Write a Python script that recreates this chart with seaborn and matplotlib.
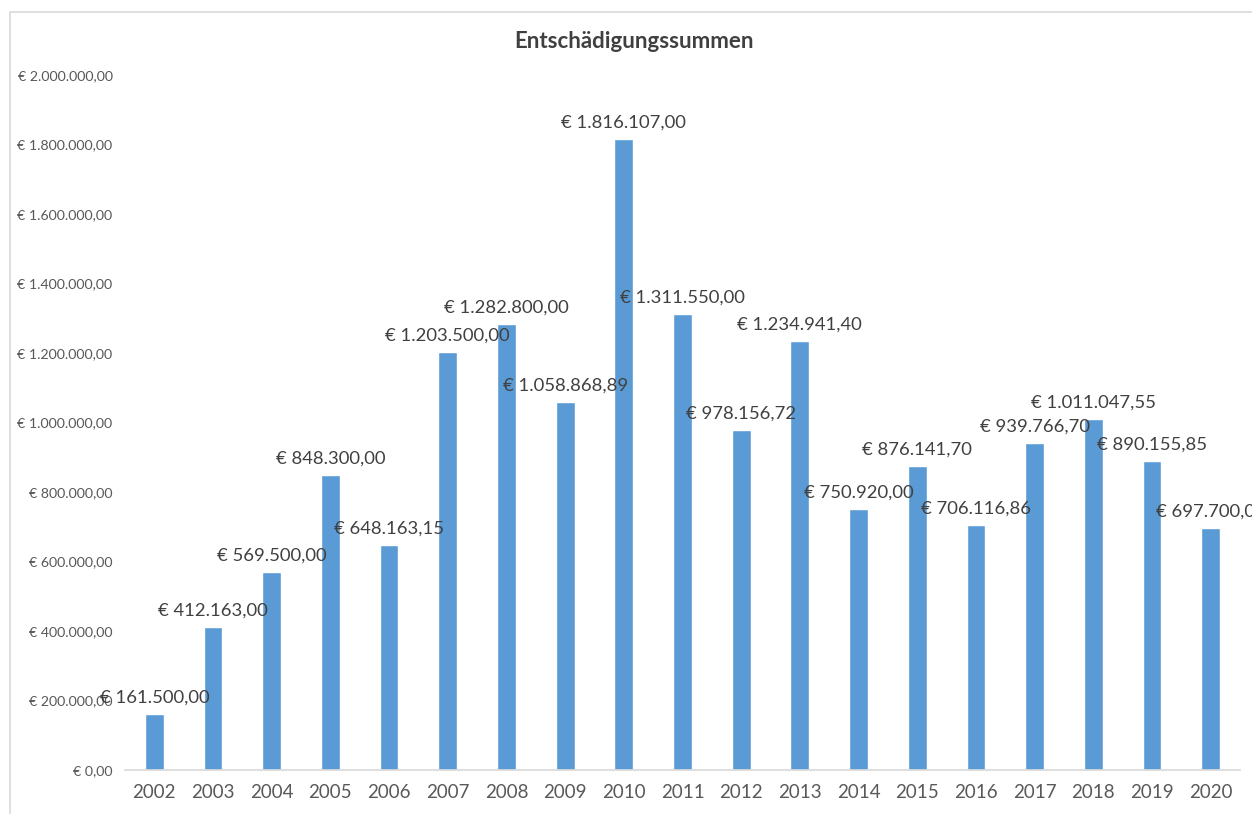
import matplotlib
matplotlib.use("Agg")
import matplotlib.pyplot as plt
import seaborn as sns
import pandas as pd
from matplotlib.patches import Rectangle
from matplotlib.ticker import FuncFormatter, FixedLocator

years = [str(y) for y in range(2002, 2021)]
amounts = [161500.00, 412163.00, 569500.00, 848300.00, 648163.15, 1203500.00,
           1282800.00, 1058868.89, 1816107.00, 1311550.00, 978156.72, 1234941.40,
           750920.00, 876141.70, 706116.86, 939766.70, 1011047.55, 890155.85,
           697700.00]
y_ticks = [0, 200000, 400000, 600000, 800000, 1000000, 1200000, 1400000,
           1600000, 1800000, 2000000]


def euro(v, pos=None):
    s = f"{v:,.2f}"
    s = s.replace(",", "X").replace(".", ",").replace("X", ".")
    return "€ " + s


sns.set_style("white")
plt.rcParams["font.family"] = ["Lato", "DejaVu Sans"]

df = pd.DataFrame({"Jahr": years, "Summe": amounts})

fig = plt.figure(figsize=(12.52, 8.14), dpi=100)
ax = fig.add_axes([125 / 1252, 44 / 814, (1240 - 125) / 1252, (770 - 75) / 814])

sns.barplot(data=df, x="Jahr", y="Summe", color="#5B9BD5", width=0.32,
            saturation=1, ax=ax)

ax.set_xlim(-0.5, len(years) - 0.5)
ax.set_ylim(0, 2000000)
ax.yaxis.set_major_locator(FixedLocator(y_ticks))
ax.yaxis.set_major_formatter(FuncFormatter(euro))
ax.set_xlabel("")
ax.set_ylabel("")

for side in ["top", "right", "left"]:
    ax.spines[side].set_visible(False)
ax.spines["bottom"].set_color("#D9D9D9")
ax.spines["bottom"].set_linewidth(1.2)

ax.tick_params(axis="y", length=0, labelsize=10.2, labelcolor="#595959", pad=9)
ax.tick_params(axis="x", which="major", length=0, labelsize=13.5,
               labelcolor="#595959", pad=10)
ax.set_xticks([i - 0.5 for i in range(len(years) + 1)], minor=True)
ax.tick_params(axis="x", which="minor", length=6, width=1.2, color="#D9D9D9")

ax.bar_label(ax.containers[0], labels=[euro(v) for v in amounts], padding=6,
             fontsize=13.3, color="#404040")

fig.text(634 / 1252, 1 - 42 / 814, "Entschädigungssummen", ha="center",
         va="center", fontsize=16, fontweight="bold", color="#404040")

fig.patches.append(Rectangle((10 / 1252, -0.1), 1.2, 0.1 + (814 - 12) / 814,
                             transform=fig.transFigure, fill=False,
                             edgecolor="#D9D9D9", linewidth=1.2))

fig.savefig("out.png", dpi=100)
